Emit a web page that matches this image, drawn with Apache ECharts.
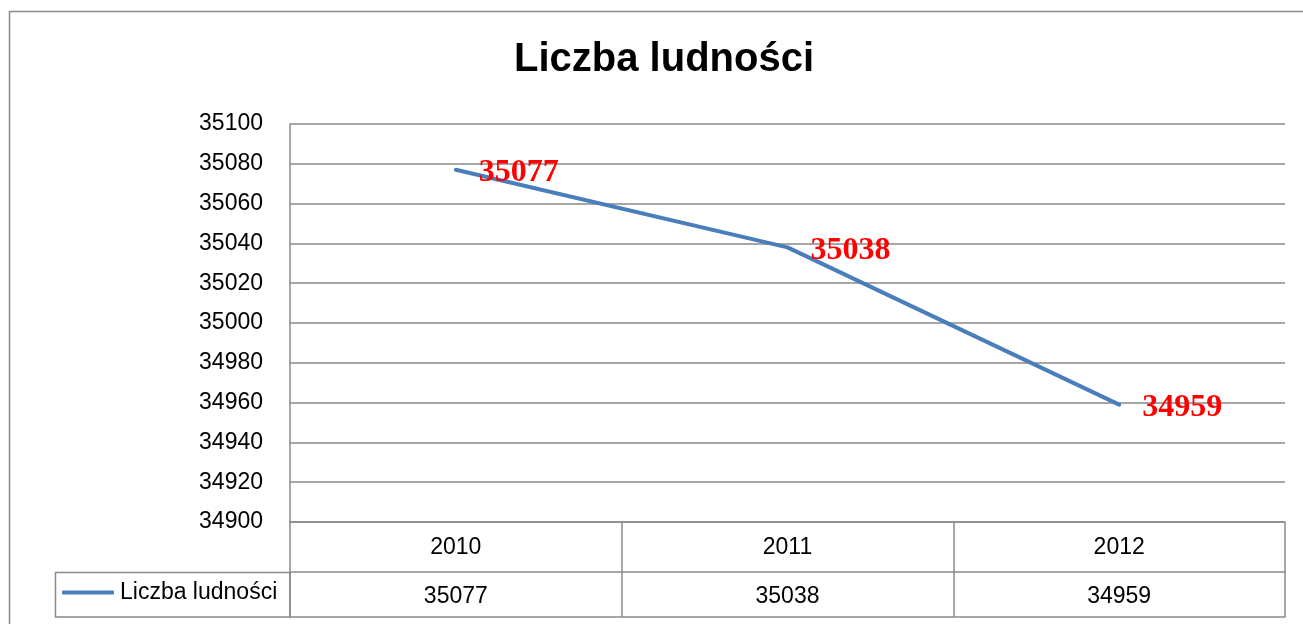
<!DOCTYPE html>
<html>
<head>
<meta charset="utf-8">
<script src="https://cdn.jsdelivr.net/npm/echarts@6/dist/echarts.min.js"></script>
<style>
  html, body { margin: 0; padding: 0; background: #fff; }
  #chart { width: 1303px; height: 624px; }
</style>
</head>
<body>
<div id="chart"></div>
<script>
// data
const years = ['2010', '2011', '2012'];
const population = [35077, 35038, 34959];
const seriesName = 'Liczba ludności';
const yMin = 34900;
const yMax = 35100;
const yStep = 20;

const gray = '#8a8a8a';
const sans = '"Liberation Sans", Arial, sans-serif';

const chart = echarts.init(document.getElementById('chart'));

chart.setOption({
  animation: false,
  title: {
    text: 'Liczba ludności',
    left: 514,
    top: 40,
    padding: 0,
    textStyle: { fontFamily: sans, fontSize: 40, fontWeight: 'bold', color: '#000' },
  },
  legend: {
    data: [{ name: seriesName, icon: 'roundRect' }],
    left: 62,
    top: 581,
    padding: 0,
    itemWidth: 52,
    itemHeight: 4,
    itemGap: 6,
    textStyle: { fontFamily: sans, fontSize: 23, color: '#000', lineHeight: 23, padding: [0, 0, 0, 1] },
  },
  grid: { left: 290, right: 18, top: 124, bottom: 102, containLabel: false },
  // table cell for the legend + outer chart border
  graphic: [
    {
      type: 'rect',
      shape: { x: 9.5, y: 11.5, width: 1400, height: 700 },
      style: { fill: 'none', stroke: gray, lineWidth: 1.5 },
      silent: true,
    },
    {
      type: 'rect',
      shape: { x: 55.5, y: 572.5, width: 234.5, height: 44.5 },
      style: { fill: 'none', stroke: gray, lineWidth: 1.5 },
      silent: true,
    },
  ],
  xAxis: [
    {
      type: 'category',
      data: years,
      boundaryGap: true,
      position: 'bottom',
      axisLine: { show: true, lineStyle: { color: gray, width: 1.5 } },
      axisTick: { show: true, length: 95, lineStyle: { color: gray, width: 1.5 } },
      axisLabel: { fontFamily: sans, fontSize: 23, color: '#000', margin: 14 },
      splitLine: { show: false },
    },
    {
      type: 'category',
      data: population.map(String),
      boundaryGap: true,
      position: 'bottom',
      offset: 50,
      axisLine: { show: true, lineStyle: { color: gray, width: 1.5 } },
      axisTick: { show: false },
      axisLabel: { fontFamily: sans, fontSize: 23, color: '#000', margin: 13 },
    },
    {
      type: 'category',
      data: years,
      position: 'bottom',
      offset: 95,
      axisLine: { show: true, lineStyle: { color: gray, width: 1.5 } },
      axisTick: { show: false },
      axisLabel: { show: false },
    },
  ],
  yAxis: {
    type: 'value',
    min: yMin,
    max: yMax,
    interval: yStep,
    axisLine: { show: true, lineStyle: { color: gray, width: 1.5 } },
    axisTick: { show: false },
    axisLabel: {
      fontFamily: sans,
      fontSize: 23,
      color: '#000',
      margin: 27,
      formatter: (v) => String(v),
    },
    splitLine: { show: true, lineStyle: { color: gray, width: 1.5 } },
  },
  series: [
    {
      name: seriesName,
      type: 'line',
      xAxisIndex: 0,
      data: population,
      symbol: 'circle',
      symbolSize: 2,
      itemStyle: { color: '#4a7ebb' },
      lineStyle: { color: '#4a7ebb', width: 4, cap: 'round' },
      label: {
        show: true,
        position: 'right',
        distance: 22,
        offset: [0, 3],
        fontFamily: '"Liberation Serif", "Times New Roman", serif',
        fontWeight: 'bold',
        fontSize: 32,
        color: '#ff0000',
      },
    },
  ],
});
</script>
</body>
</html>
